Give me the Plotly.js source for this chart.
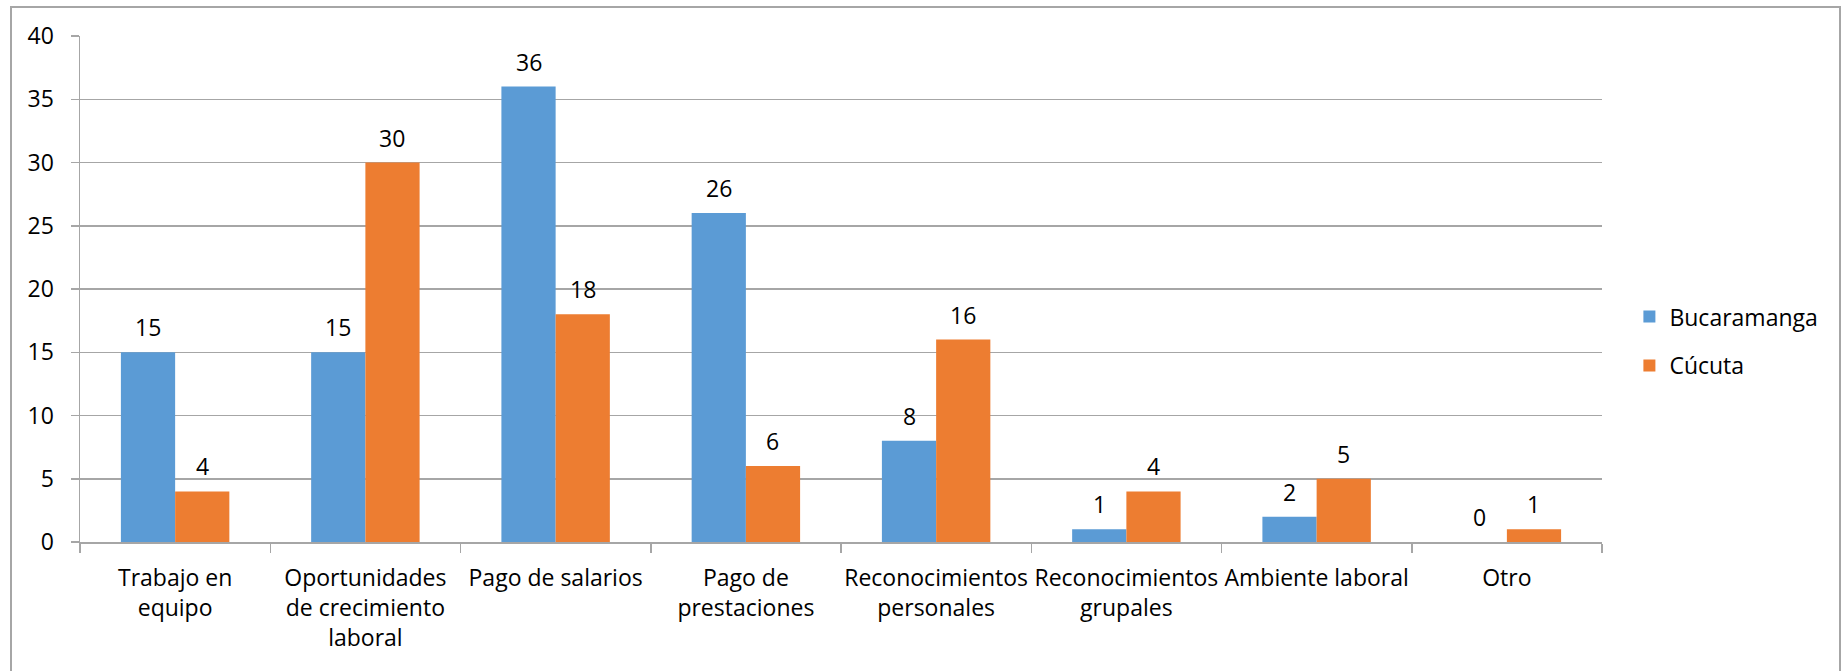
<!DOCTYPE html>
<html>
<head>
<meta charset="utf-8">
<script src="https://cdn.plot.ly/plotly-3.0.1.min.js"></script>
<style>
html,body{margin:0;padding:0;background:#fff;}
#chart{width:1847px;height:671px;}
</style>
</head>
<body>
<div id="chart"></div>
<script>
const categories = ["Trabajo en equipo", "Oportunidades de crecimiento laboral", "Pago de salarios", "Pago de prestaciones", "Reconocimientos personales", "Reconocimientos grupales", "Ambiente laboral", "Otro"];
const tickLabels = ["Trabajo en<br>equipo", "Oportunidades<br>de crecimiento<br>laboral", "Pago de salarios", "Pago de<br>prestaciones", "Reconocimientos<br>personales", "Reconocimientos<br>grupales", "Ambiente laboral", "Otro"];
const bucaramanga = [15, 15, 36, 26, 8, 1, 2, 0];
const cucuta = [4, 30, 18, 6, 16, 4, 5, 1];
const seriesNames = ["Bucaramanga", "Cúcuta"];
const colors = ["#5B9BD5", "#ED7D31"];

const FONT = "Open Sans, sans-serif";
const FS = 23;
const bargap = 0.43;
const plotW = 1847 - 80 - 245;
const barW = plotW / categories.length * (1 - bargap) / 2;

const seriesVals = [bucaramanga, cucuta];
const traces = seriesVals.map((vals, s) => ({
  type: "bar",
  name: seriesNames[s],
  x: categories,
  y: vals,
  marker: {color: colors[s], line: {width: 0}},
  legendgroup: "g" + s,
  hoverinfo: "x+y+name"
}));

const annotations = [];
seriesVals.forEach((vals, s) => {
  vals.forEach((v, i) => {
    annotations.push({
      x: categories[i], y: v, xref: "x", yref: "y",
      text: String(v), showarrow: false,
      xshift: (s === 0 ? -1 : 1) * barW / 2,
      yanchor: "bottom", yshift: 7,
      font: {family: FONT, size: FS, color: "#000"}
    });
  });
});

const layout = {
  width: 1847, height: 671,
  margin: {l: 80, r: 245, t: 36, b: 129},
  paper_bgcolor: "#fff", plot_bgcolor: "#fff",
  barmode: "group", bargap: bargap, bargroupgap: 0,
  font: {family: FONT, size: FS, color: "#000"},
  showlegend: true,
  legend: {
    x: 1.018, xanchor: "left", y: 0.397, yanchor: "middle",
    font: {family: FONT, size: FS, color: "#000"},
    tracegroupgap: 16, bgcolor: "rgba(0,0,0,0)"
  },
  xaxis: {
    type: "category",
    tickmode: "array", tickvals: categories, ticktext: tickLabels,
    tickson: "boundaries",
    ticks: "outside", ticklen: 9, tickcolor: "#a6a6a6", tickwidth: 1.5,
    showline: true, linecolor: "#a6a6a6", linewidth: 1.5,
    showgrid: false, zeroline: false,
    ticklabelstandoff: 15,
    tickfont: {family: FONT, size: FS, color: "#000"},
    tickangle: 0,
    automargin: false
  },
  yaxis: {
    range: [0, 40], dtick: 5, tick0: 0,
    ticks: "outside", ticklen: 8, tickcolor: "#a6a6a6", tickwidth: 1.5,
    showline: true, linecolor: "#a6a6a6", linewidth: 1.5,
    showgrid: true, gridcolor: "#a6a6a6", gridwidth: 1.5,
    zeroline: false,
    ticklabelstandoff: 12,
    tickfont: {family: FONT, size: FS, color: "#000"},
    automargin: false
  },
  annotations: annotations,
  shapes: [{
    type: "rect", xref: "paper", yref: "paper",
    x0: (11 - 80) / plotW, x1: (1840 - 80) / plotW,
    y0: -0.5, y1: (542 - 7) / 506,
    line: {color: "#a6a6a6", width: 2}, fillcolor: "rgba(0,0,0,0)", layer: "below"
  }]
};

Plotly.newPlot("chart", traces, layout, {displayModeBar: false, staticPlot: true});
</script>
</body>
</html>
